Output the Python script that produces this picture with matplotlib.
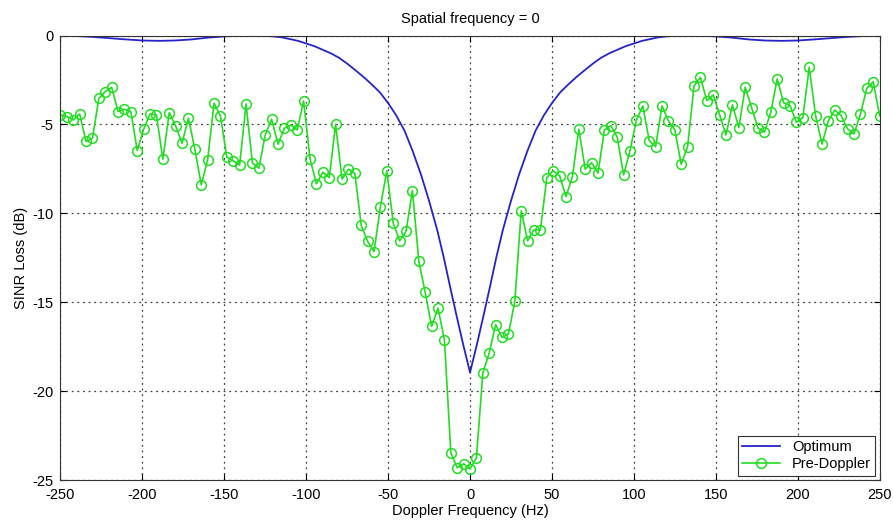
import numpy as np
import matplotlib
matplotlib.use("Agg")
import matplotlib.pyplot as plt

plt.rcParams['font.family'] = ['Liberation Sans', 'DejaVu Sans']
plt.rcParams['axes.unicode_minus'] = False

# Pre-Doppler: 129 samples from -250 to 250 Hz
pre_doppler_db = [
    -4.47, -4.56, -4.75, -4.41, -5.96, -5.78, -3.53, -3.16, -2.91, -4.28,
    -4.15, -4.28, -6.47, -5.27, -4.41, -4.47, -6.96, -4.34, -5.08, -6.06,
    -4.65, -6.39, -8.40, -6.99, -3.81, -4.52, -6.84, -7.05, -7.28, -3.85,
    -7.18, -7.46, -5.59, -4.71, -6.11, -5.21, -5.03, -5.31, -3.68, -6.94,
    -8.34, -7.69, -7.99, -4.99, -8.08, -7.52, -7.76, -10.68, -11.58, -12.15,
    -9.62, -7.61, -10.55, -11.55, -11.02, -8.72, -12.71, -14.45, -16.36, -15.33,
    -17.11, -23.47, -24.31, -24.09, -24.37, -23.75, -18.98, -17.85, -16.26, -16.98,
    -16.79, -14.95, -9.86, -11.55, -10.93, -10.93, -7.99, -7.60, -7.89, -9.06,
    -7.93, -5.27, -7.52, -7.15, -7.74, -5.31, -5.07, -5.72, -7.84, -6.47,
    -4.75, -3.96, -5.91, -6.25, -3.96, -4.80, -5.31, -7.24, -6.25, -2.84,
    -2.35, -3.66, -3.34, -4.47, -5.59, -3.90, -5.18, -2.91, -4.06, -5.21,
    -5.44, -4.31, -2.44, -3.78, -3.94, -4.88, -4.62, -1.79, -4.51, -6.10,
    -4.79, -4.19, -4.51, -5.25, -5.53, -4.43, -2.97, -2.60, -4.51,
]
pre_doppler_hz = np.linspace(-250, 250, len(pre_doppler_db))

# Optimum curve (read at selected frequencies, symmetric)
opt_abs_hz = [0, 4, 8, 12, 16, 20, 25, 30, 35, 40, 45, 50, 55, 60, 65, 70, 75,
              80, 85, 90, 95, 100, 105, 110, 115, 120, 125, 130, 140, 150, 160,
              170, 180, 190, 200, 210, 220, 230, 240, 250]
opt_abs_db = [-18.95, -17.45, -15.85, -14.2, -12.5, -10.95, -9.3, -7.8, -6.5,
              -5.35, -4.5, -3.8, -3.2, -2.75, -2.33, -1.95, -1.58, -1.25, -1.0,
              -0.8, -0.6, -0.45, -0.3, -0.2, -0.1, -0.05, -0.02, 0.0, -0.01,
              -0.05, -0.12, -0.22, -0.28, -0.3, -0.28, -0.22, -0.15, -0.08,
              -0.03, 0.0]
optimum_hz = [-h for h in opt_abs_hz[::-1]] + opt_abs_hz[1:]
optimum_db = opt_abs_db[::-1] + opt_abs_db[1:]

x_ticks = [-250, -200, -150, -100, -50, 0, 50, 100, 150, 200, 250]
y_ticks = [-25, -20, -15, -10, -5, 0]

fig = plt.figure(figsize=(8.93, 5.20), dpi=100)
ax = fig.add_axes([0.0677, 0.0769, 0.9173, 0.8548])

ax.plot(optimum_hz, optimum_db, color='#2424c8', lw=1.3, label='Optimum')
ax.plot(pre_doppler_hz, pre_doppler_db, color='#22dd22', lw=1.2,
        marker='o', markersize=7, markerfacecolor='none',
        markeredgecolor='#22dd22', markeredgewidth=1.1, label='Pre-Doppler')

ax.set_xlim(-250, 250)
ax.set_ylim(-25, 0)
ax.set_xticks(x_ticks)
ax.set_yticks(y_ticks)
ax.grid(True, linestyle=(0, (1.5, 3)), color='#404040', lw=0.9)
ax.tick_params(direction='in', top=True, right=True, labelsize=10.5, length=4)
ax.tick_params(axis='x', pad=6)
ax.tick_params(axis='y', pad=5)
for s in ax.spines.values():
    s.set_color('#333333')
    s.set_linewidth(0.8)

ax.set_title('Spatial frequency = 0', fontsize=10.5, pad=9)
ax.set_xlabel('Doppler Frequency (Hz)', fontsize=10.5, labelpad=1)
ax.set_ylabel('SINR Loss (dB)', fontsize=10.5, labelpad=3)

leg = ax.legend(loc='lower right', fontsize=10.5, fancybox=False,
                framealpha=1, edgecolor='#333333', borderaxespad=0.3,
                handlelength=2.6, borderpad=0.3, labelspacing=0.2)
leg.get_frame().set_linewidth(0.8)

fig.savefig('out.png', dpi=100)
